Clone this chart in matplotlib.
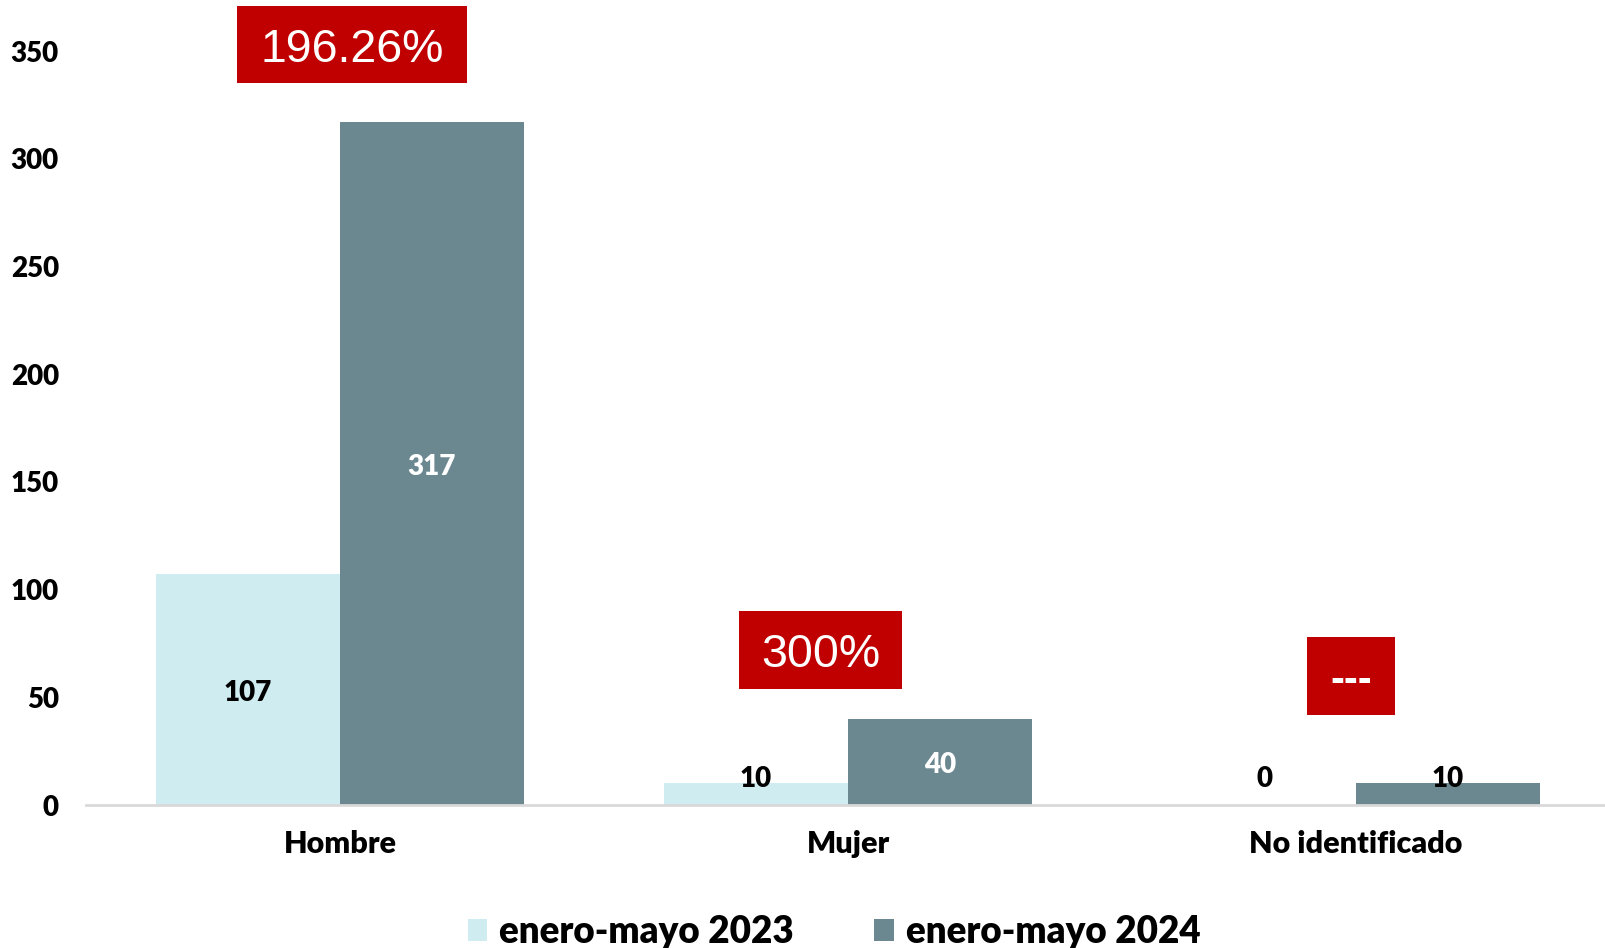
import matplotlib
matplotlib.use("Agg")
import matplotlib.pyplot as plt
from matplotlib.patches import Rectangle
import numpy as np

categories = ["Hombre", "Mujer", "No identificado"]
series_names = ["enero-mayo 2023", "enero-mayo 2024"]
values_2023 = [107, 10, 0]
values_2024 = [317, 40, 10]
change_labels = ["196.26%", "300%", "---"]
yticks = [0, 50, 100, 150, 200, 250, 300, 350]

c2023 = "#CFECF1"
c2024 = "#6B8890"
red = "#C00000"

plt.rcParams['font.family'] = ['Lato', 'DejaVu Sans']

fig = plt.figure(figsize=(16.05, 9.48), dpi=100)
ax = fig.add_axes([86/1605, 143/948, (1610-86)/1605, (805-51)/948])

x = np.arange(len(categories))
w = 0.362
b1 = ax.bar(x - w/2, values_2023, w, color=c2023, label=series_names[0])
b2 = ax.bar(x + w/2, values_2024, w, color=c2024, label=series_names[1])

ax.set_xlim(-0.5, 2.5)
ax.set_ylim(0, 350)
ax.set_yticks(yticks)
ax.set_yticklabels([str(t) for t in yticks], fontsize=20, fontweight='heavy')
ax.set_xticks(x)
ax.set_xticklabels(categories, fontsize=22, fontweight='heavy')
ax.tick_params(axis='y', length=0, pad=19.5)
ax.tick_params(axis='x', length=0, pad=18)
for s in ['top', 'right', 'left']:
    ax.spines[s].set_visible(False)
ax.spines['bottom'].set_color('#D9D9D9')
ax.spines['bottom'].set_linewidth(2)

min_y = 13.9
for i in range(len(categories)):
    v = values_2023[i]
    ax.annotate(str(v), (x[i] - w/2, max(v/2, min_y)), xytext=(0, -2.5),
                textcoords='offset points', ha='center', va='center',
                fontsize=20, fontweight='heavy', color='black')
    v = values_2024[i]
    col = 'white' if v / 2 > min_y else 'black'
    ax.annotate(str(v), (x[i] + w/2, max(v/2, min_y)), xytext=(0, -2.5),
                textcoords='offset points', ha='center', va='center',
                fontsize=20, fontweight='heavy', color=col)

# red change boxes: (x offset, y center, width, height) in data units
boxes = [(0.024, 352.9, 0.453, 35.7), (-0.054, 71.9, 0.321, 36.2), (-0.01, 59.9, 0.173, 36.2)]
for i, (dx, yc, bw, bh) in enumerate(boxes):
    cx = x[i] + dx
    ax.add_patch(Rectangle((cx - bw/2, yc - bh/2), bw, bh, facecolor=red,
                           edgecolor='none', clip_on=False, zorder=5))
    if change_labels[i] == "---":
        ax.annotate(change_labels[i], (cx, yc), xytext=(0, -3.5), textcoords='offset points',
                    ha='center', va='center', color='white', annotation_clip=False,
                    fontsize=30, fontweight='bold', family=['Liberation Sans'], zorder=6)
    else:
        ax.annotate(change_labels[i], (cx, yc), xytext=(0, -3.5), textcoords='offset points',
                    ha='center', va='center', color='white', annotation_clip=False,
                    fontsize=33.5, family=['Liberation Sans'], zorder=6)

fig.legend(handles=[b1, b2], labels=series_names, loc='center',
           bbox_to_anchor=(834/1605, 1 - 932/948), ncol=2, frameon=False,
           prop={'size': 26.5, 'weight': 'heavy'}, handlelength=0.52, handleheight=0.52,
           handletextpad=0.33, columnspacing=2.2, borderpad=0, borderaxespad=0)

fig.savefig("out.png", dpi=100)
